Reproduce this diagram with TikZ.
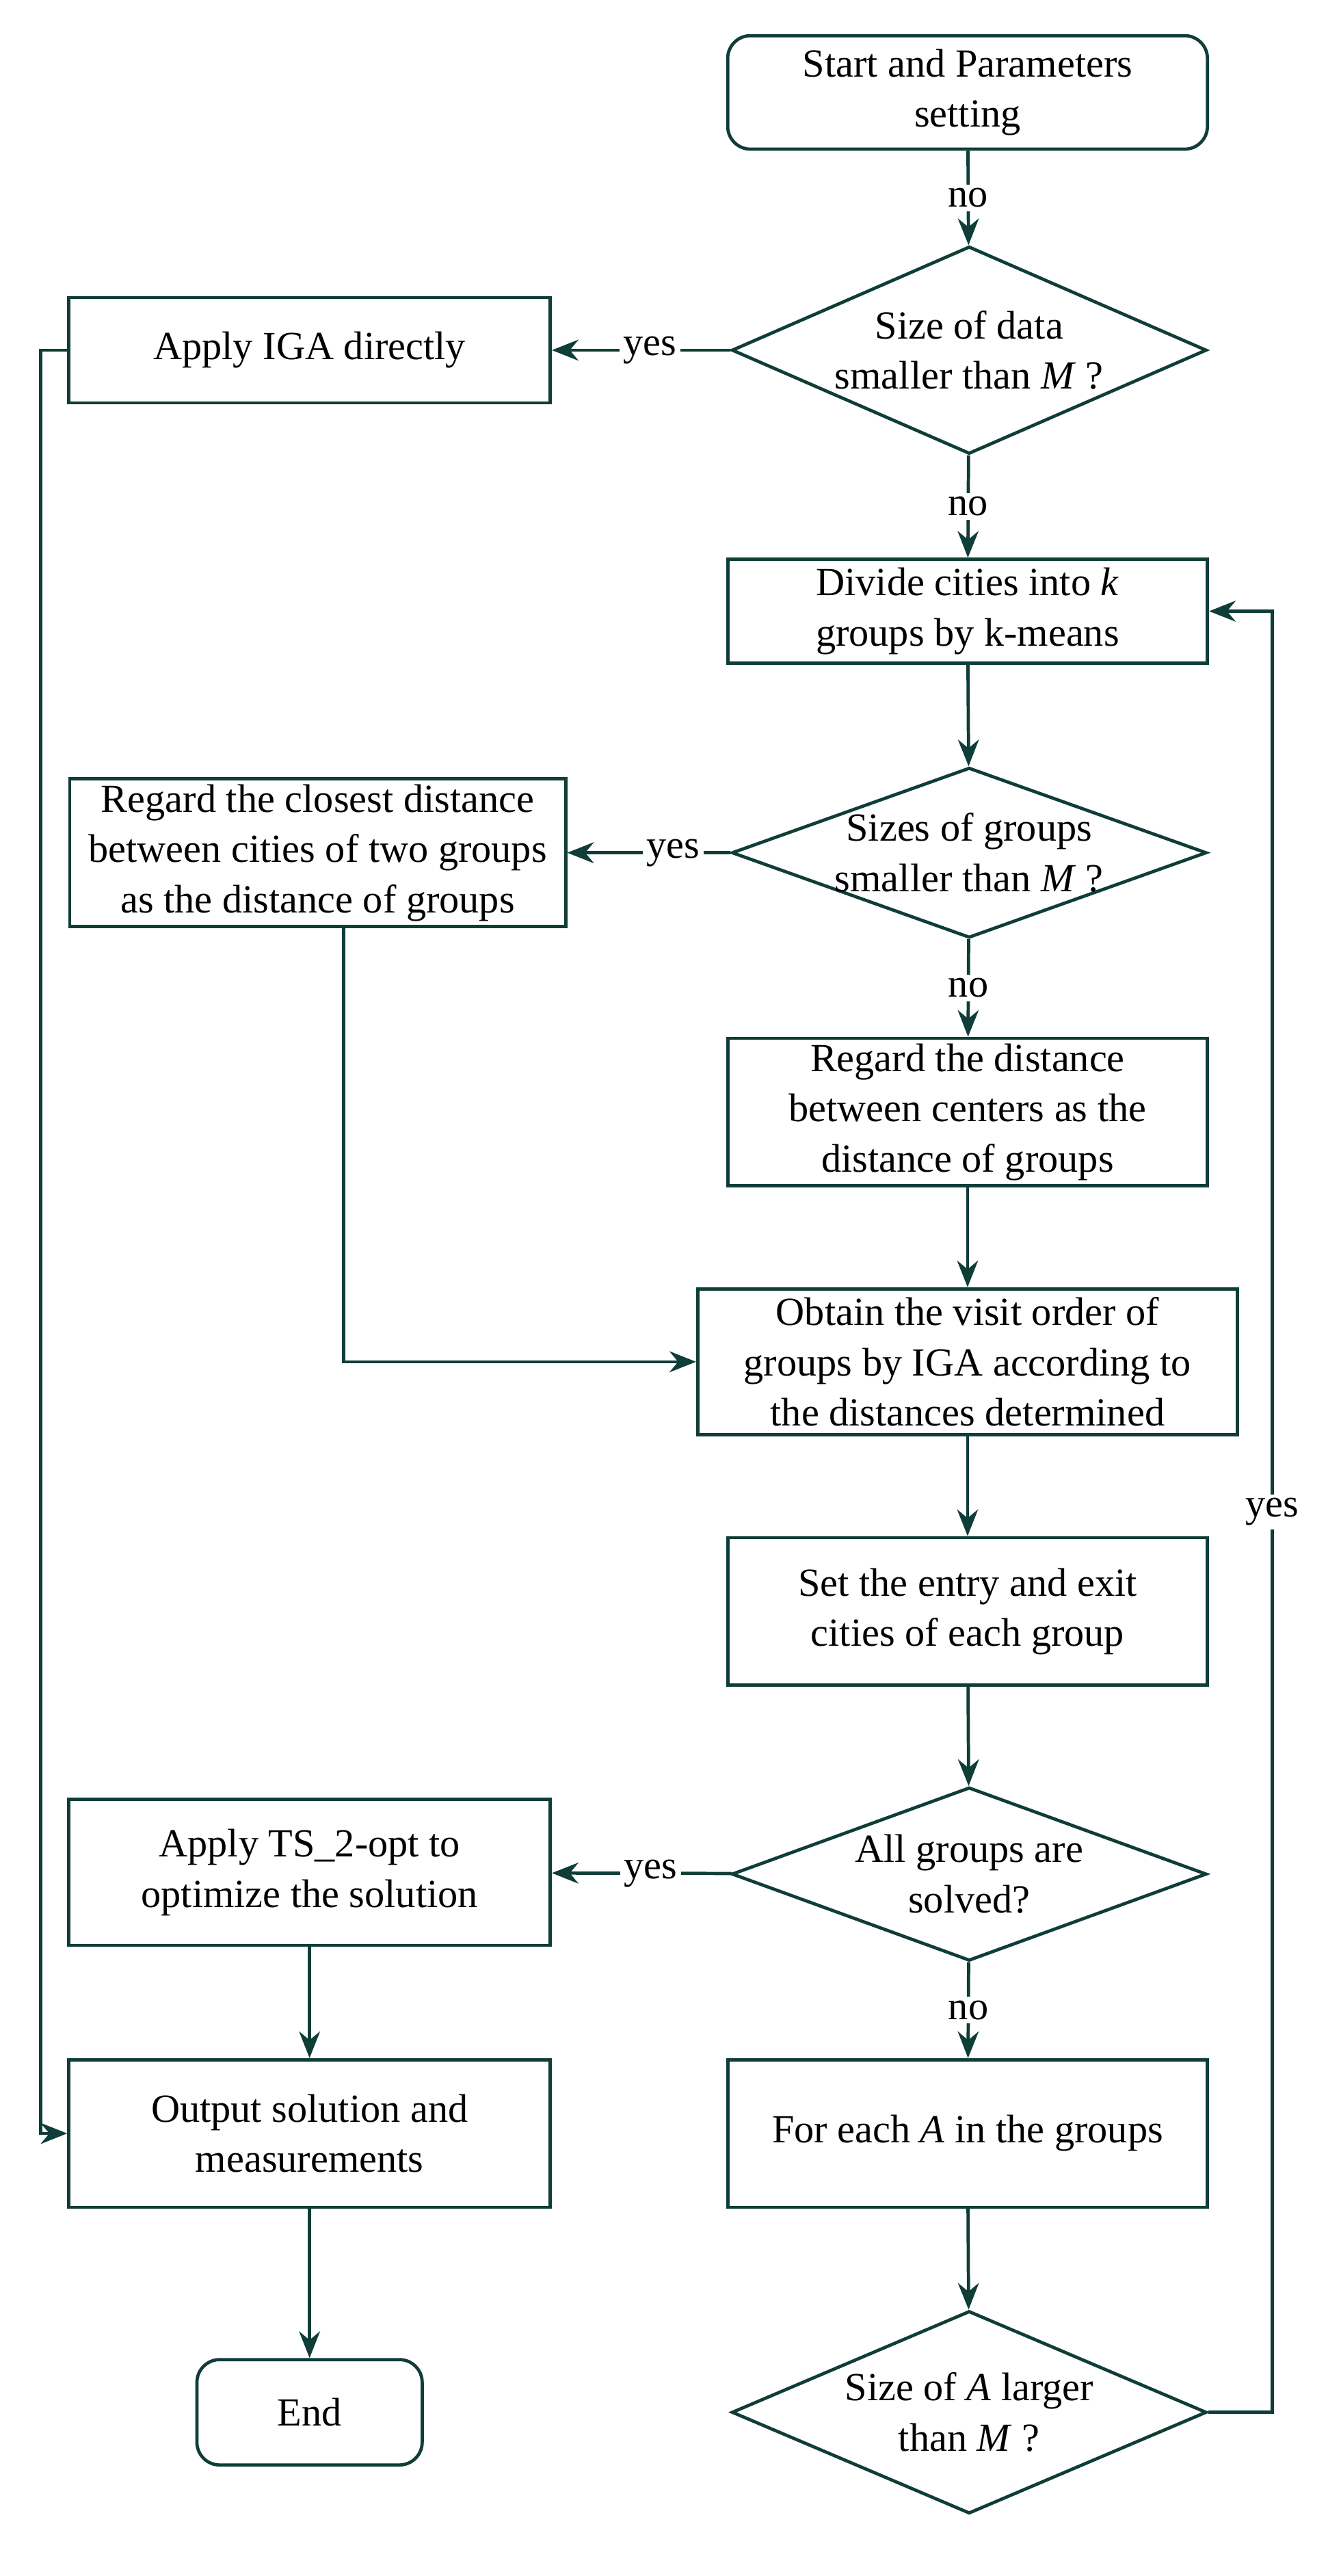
\documentclass[tikz,border=0pt]{standalone}
\usepackage{fontspec}
\setmainfont{Liberation Serif}
\usetikzlibrary{shapes.geometric,arrows.meta}
\definecolor{ln}{HTML}{0F3D38}
\begin{document}
\begin{tikzpicture}[x=0.03cm,y=-0.03cm,
  every node/.style={font=\fontsize{21}{26.5}\selectfont, text=black},
  box/.style={draw=ln, line width=1.7pt, minimum width=#1*0.03cm, align=center, inner sep=0pt},
  box/.default=296,
  dia/.style={draw=ln, line width=1.7pt, diamond, minimum width=8.79cm, minimum height=#1*0.03cm, inner sep=0pt},
  arr/.style={draw=ln, line width=1.7pt, -{Stealth[length=14pt,width=11pt]}},
  lab/.style={fill=white, inner sep=2pt}]
\useasboundingbox (0,0) rectangle (827,1589);
\node[box, rounded corners=12pt, minimum height=2.1cm] (start) at (597,57) {Start and Parameters\\setting};
\node[dia=128] (d1) at (598,216) {};
\node[align=center] at (598,216) {Size of data\\smaller than \textit{M} ?};
\node[box=297, minimum height=1.95cm] (iga) at (191,216) {Apply IGA directly};
\node[box, minimum height=1.92cm] (div) at (597,377) {Divide cities into \textit{k}\\groups by k-means};
\node[dia=105] (d2) at (598,526) {};
\node[align=center] at (598,526) {Sizes of groups\\smaller than \textit{M} ?};
\node[box=306, minimum height=2.73cm] (close) at (196,526) {Regard the closest distance\\between cities of two groups\\as the distance of groups};
\node[box, minimum height=2.73cm] (cent) at (597,686) {Regard the distance\\between centers as the\\distance of groups};
\node[box=333, minimum height=2.7cm] (obt) at (597,840) {Obtain the visit order of\\groups by IGA according to\\the distances determined};
\node[box, minimum height=2.73cm] (set) at (597,994) {Set the entry and exit\\cities of each group};
\node[dia=107] (d3) at (598,1156) {};
\node[align=center] at (598,1156) {All groups are\\solved?};
\node[box=297, minimum height=2.7cm] (ts) at (191,1155) {Apply TS\_2-opt to\\optimize the solution};
\node[box, minimum height=2.73cm] (each) at (597,1316) {For each \textit{A} in the groups};
\node[dia=125] (d4) at (598,1488) {};
\node[align=center] at (598,1488) {Size of \textit{A} larger\\than \textit{M} ?};
\node[box=297, minimum height=2.73cm] (out) at (191,1316) {Output solution and\\measurements};
\node[box=139, rounded corners=12pt, minimum height=1.95cm] (end) at (191,1488) {End};
\coordinate (c1) at (25,216); \coordinate (c2) at (25,1316);
\coordinate (c3) at (212,840);
\coordinate (c4) at (785,1488); \coordinate (c5) at (785,377);
\draw[arr] (start) -- node[lab]{no} (d1);
\draw[arr] (d1) -- node[lab]{no} (div);
\draw[arr] (d1) -- node[lab,pos=0.45]{yes} (iga);
\draw[arr] (div) -- (d2);
\draw[arr] (d2) -- node[lab,pos=0.35]{yes} (close);
\draw[arr] (d2) -- node[lab]{no} (cent);
\draw[arr] (cent) -- (obt);
\draw[arr] (close.south -| c3) -- (c3) -- (obt.west);
\draw[arr] (obt) -- (set);
\draw[arr] (set) -- (d3);
\draw[arr] (d3) -- node[lab,pos=0.45]{yes} (ts);
\draw[arr] (d3) -- node[lab]{no} (each);
\draw[arr] (each) -- (d4);
\draw[arr] (ts) -- (out);
\draw[arr] (out) -- (end);
\draw[arr] (iga.west) -- (c1) -- (c2) -- (out.west);
\draw[arr] (d4.east) -- (c4) -- node[lab,pos=0.5]{yes} (c5) -- (div.east);
\end{tikzpicture}
\end{document}
